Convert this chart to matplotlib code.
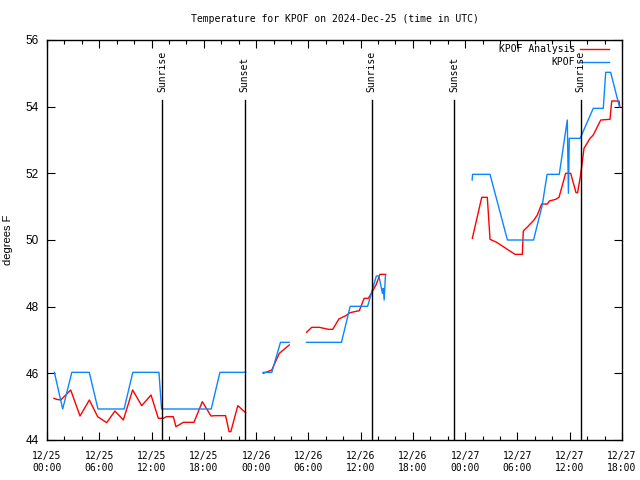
import numpy as np
import matplotlib
matplotlib.use("Agg")
import matplotlib.pyplot as plt

nan = float("nan")

# hours since 2024-12-25 00:00 UTC, nan = gap in data
obs_hours = [0.85, 1.8, 2.85, 3.85, 4.85, 5.85, 6.85, 7.85, 8.85, 9.85, 10.85, 11.85,
             12.85, 13.15, 13.85, 14.85, 15.85, 16.85, 17.85, 18.85, 19.85, 20.85, 21.85, 22.8,
             nan,
             24.8, 25.8, 26.8, 27.8,
             nan,
             29.8, 30.8, 31.8, 32.8, 33.8, 34.8, 35.8, 36.8, 37.8, 38.1, 38.5, 38.6, 38.7, 38.85,
             nan,
             48.8, 48.85, 49.85, 50.85, 52.85, 53.85, 54.85, 55.85, 56.85, 57.4, 57.85, 58.8,
             59.72, 59.85, 59.95, 60.85, 61.2, 62.7, 63.85, 64.13, 64.7, 65.7]
obs_temp = [46.03, 44.93, 46.03, 46.03, 46.03, 44.93, 44.93, 44.93, 44.93, 46.03, 46.03, 46.03,
            46.03, 44.93, 44.93, 44.93, 44.93, 44.93, 44.93, 44.93, 46.03, 46.03, 46.03, 46.03,
            nan,
            46.03, 46.03, 46.93, 46.93,
            nan,
            46.93, 46.93, 46.93, 46.93, 46.93, 48.01, 48.01, 48.01, 48.92, 48.92, 48.4, 48.55, 48.2, 48.95,
            nan,
            51.8, 51.97, 51.97, 51.97, 50.0, 50.0, 50.0, 50.0, 51.05, 51.97, 51.97, 51.97,
            53.6, 51.4, 53.05, 53.05, 53.05, 53.95, 53.95, 55.03, 55.03, 54.0]

ana_hours = [0.8, 1.1, 1.57, 2.72, 3.79, 4.86, 5.81, 6.85, 7.8, 8.76, 9.83, 10.87, 11.94,
             12.78, 13.35, 13.7, 14.5, 14.8, 15.65, 16.87, 17.83, 18.82, 19.3, 20.5, 20.9,
             21.1, 21.9, 22.8,
             nan,
             24.83, 25.8, 26.67, 27.8,
             nan,
             29.8, 30.38, 31.26, 32.3, 32.8, 33.5, 34.3, 34.78, 35.85, 36.4, 36.88, 37.27,
             37.76, 38.22, 38.88,
             nan,
             48.82, 49.9, 50.54, 50.77, 50.85, 51.62, 52.38, 52.95, 53.72, 54.56, 54.67, 55.25,
             55.9, 56.28, 56.78, 57.43, 57.66, 58.39, 58.77, 59.53, 60.11, 60.72, 60.9, 61.25,
             61.64, 62.33, 62.7, 63.56, 64.62, 64.82, 65.66, 65.75]
ana_temp = [45.25, 45.22, 45.2, 45.5, 44.72, 45.2, 44.7, 44.52, 44.87, 44.6, 45.5, 45.03, 45.35,
            44.65, 44.65, 44.7, 44.7, 44.4, 44.53, 44.53, 45.15, 44.72, 44.73, 44.73, 44.25,
            44.25, 45.03, 44.82,
            nan,
            46.0, 46.1, 46.6, 46.85,
            nan,
            47.23, 47.38, 47.38, 47.32, 47.32, 47.63, 47.73, 47.82, 47.88, 48.25, 48.25, 48.42,
            48.65, 48.97, 48.97,
            nan,
            50.05, 51.28, 51.28, 50.35, 50.02, 49.93, 49.8, 49.7, 49.57, 49.57, 50.27, 50.42,
            50.6, 50.75, 51.08, 51.08, 51.17, 51.22, 51.28, 52.0, 52.0, 51.42, 51.42, 51.95,
            52.75, 53.05, 53.15, 53.6, 53.62, 54.17, 54.17, 54.0]

sun_hours = [13.25, 22.7, 37.25, 46.75, 61.25]
sun_names = ["Sunrise", "Sunset", "Sunrise", "Sunset", "Sunrise"]

tick_hours = list(range(0, 67, 6))
tick_labels = ["12/25\n00:00", "12/25\n06:00", "12/25\n12:00", "12/25\n18:00",
               "12/26\n00:00", "12/26\n06:00", "12/26\n12:00", "12/26\n18:00",
               "12/27\n00:00", "12/27\n06:00", "12/27\n12:00", "12/27\n18:00"]

mono = "DejaVu Sans Mono"
red = "#ff0000"
blue = "#0a86ff"

fig = plt.figure(figsize=(6.4, 4.8), dpi=100)
ax = fig.add_axes([47 / 640, 40 / 480, 575 / 640, 400 / 480])

ax.plot(ana_hours, ana_temp, color=red, lw=1.0)
ax.plot(obs_hours, obs_temp, color=blue, lw=1.0)

for h, name in zip(sun_hours, sun_names):
    ax.plot([h, h], [44, 54.2], color="black", lw=1.0)
    ax.text(h, 54.45, name, rotation=90, ha="center", va="bottom",
            fontsize=7, family=mono)

ax.set_xlim(0, 66)
ax.set_ylim(44, 56)
ax.set_xticks(tick_hours)
ax.set_xticklabels(tick_labels, family=mono, fontsize=7)
ax.set_xticks(range(0, 67, 2), minor=True)
ax.set_yticks(range(44, 57, 2))
ax.set_yticklabels([str(v) for v in range(44, 57, 2)], family="Liberation Sans", fontsize=8.5)
ax.tick_params(which="both", direction="in", top=True, right=True, width=0.8)
ax.tick_params(which="major", length=6)
ax.tick_params(which="minor", length=3)
ax.tick_params(axis="x", pad=8)
ax.tick_params(axis="y", pad=6)
for s in ax.spines.values():
    s.set_linewidth(1.0)

ax.set_ylabel("degrees F", family="Liberation Sans", fontsize=8, labelpad=9)
ax.set_title("Temperature for KPOF on 2024-Dec-25 (time in UTC)", family=mono,
             fontsize=7, pad=13)

# legend, top right, text right aligned before the line sample
tr = ax.transAxes
for i, (lab, col) in enumerate([("KPOF Analysis", red), ("KPOF", blue)]):
    yy = 1 - (9.5 + 13 * i) / 400
    ax.plot([533 / 575, 562 / 575], [yy, yy], color=col, lw=1.0, transform=tr)
    ax.text(528 / 575, yy, lab, ha="right", va="center", fontsize=7, family=mono, transform=tr)

fig.savefig("out.png", dpi=100)
